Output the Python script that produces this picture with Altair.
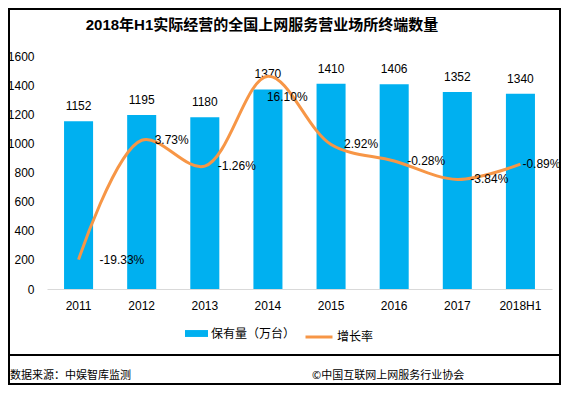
import altair as alt
import pandas as pd

years = ["2011", "2012", "2013", "2014", "2015", "2016", "2017", "2018H1"]
counts = [1152, 1195, 1180, 1370, 1410, 1406, 1352, 1340]
growth = [-19.33, 3.73, -1.26, 16.10, 2.92, -0.28, -3.84, -0.89]
growth_labels = ["-19.33%", "3.73%", "-1.26%", "16.10%", "2.92%", "-0.28%", "-3.84%", "-0.89%"]
y_ticks = [0, 200, 400, 600, 800, 1000, 1200, 1400, 1600]
series_names = ["保有量（万台）", "增长率"]
title_text = "2018年H1实际经营的全国上网服务营业场所终端数量"
source_text = "数据来源：中娱智库监测"
copyright_text = "©中国互联网上网服务行业协会"

FONT = "Liberation Sans, Noto Sans CJK SC"
CJK = "Noto Sans CJK SC"
BLUE = "#00B0F0"
ORANGE = "#F79646"

df = pd.DataFrame({"year": years, "count": counts, "growth": growth, "glabel": growth_labels})
df["s1"] = series_names[0]
df["s2"] = series_names[1]

x = alt.X(
    "year:N",
    sort=years,
    scale=alt.Scale(paddingInner=0.54, paddingOuter=0.27),
    axis=alt.Axis(
        title=None, labelAngle=0, ticks=False, domainColor="#D9D9D9", domainWidth=1,
        labelPadding=11, labelFontSize=12, labelFont=FONT, labelColor="black",
    ),
)
y_left = alt.Y(
    "count:Q",
    scale=alt.Scale(domain=[0, 1600], nice=False),
    axis=alt.Axis(
        values=y_ticks, format="d", title=None, grid=False, domain=False, ticks=False,
        labelPadding=13, labelFontSize=12, labelFont=FONT, labelColor="black",
    ),
)
y_right = alt.Y("growth:Q", scale=alt.Scale(domain=[-25, 20], nice=False), axis=None)

base = alt.Chart(df)

bars = base.mark_bar(color=BLUE).encode(
    x=x,
    y=y_left,
    color=alt.Color(
        "s1:N",
        scale=alt.Scale(domain=[series_names[0]], range=[BLUE]),
        legend=alt.Legend(
            title=None, orient="none", legendX=138, legendY=266,
            symbolType="M-1,-0.3H1V0.3H-1Z", symbolSize=529, symbolStrokeWidth=0,
            labelFont=CJK, labelFontSize=12, labelColor="black", labelOffset=3,
        ),
    ),
)
bar_labels = base.mark_text(baseline="middle", dy=-15, fontSize=12, font=FONT, color="black").encode(
    x=x, y=y_left, text=alt.Text("count:Q")
)
left = alt.layer(bars, bar_labels)

line = base.mark_line(strokeWidth=3, interpolate="catmull-rom").encode(
    x=x,
    y=y_right,
    stroke=alt.Stroke(
        "s2:N",
        scale=alt.Scale(domain=[series_names[1]], range=[ORANGE]),
        legend=alt.Legend(
            title=None, orient="none", legendX=257, legendY=266,
            symbolType="stroke", symbolSize=729, symbolStrokeWidth=3,
            labelFont=CJK, labelFontSize=12, labelColor="black", labelOffset=3,
        ),
    ),
)


def glabel_layer(sel, dx, dy=0):
    return base.transform_filter(alt.FieldOneOfPredicate(field="year", oneOf=sel)).mark_text(
        align="left", baseline="middle", dx=dx, dy=dy, fontSize=12, font=FONT, color="black"
    ).encode(x=x, y=y_right, text="glabel:N")


g_main = glabel_layer(["2012", "2013", "2015", "2016", "2017"], 13)
g_2011 = glabel_layer(["2011"], 21)
g_2014 = glabel_layer(["2014"], -1, 21)
g_2018 = glabel_layer(["2018H1"], 2)
right = alt.layer(line, g_main, g_2011, g_2014, g_2018)

deco_df = pd.DataFrame({"t": [0]})
border = alt.Chart(deco_df).mark_rect(fillOpacity=0, stroke="black", strokeWidth=2).encode(
    x=alt.value(-38), x2=alt.value(513), y=alt.value(-47), y2=alt.value(328)
)
divider = alt.Chart(deco_df).mark_rule(color="black", strokeWidth=2).encode(
    x=alt.value(-38), x2=alt.value(513), y=alt.value(299)
)
title = alt.Chart(pd.DataFrame({"t": [title_text]})).mark_text(
    align="center", baseline="middle", fontSize=15, fontWeight="bold", font=FONT, color="black"
).encode(x=alt.value(215), y=alt.value(-31), text="t:N")
src = alt.Chart(pd.DataFrame({"t": [source_text]})).mark_text(
    align="left", baseline="middle", fontSize=11, font=CJK, color="black"
).encode(x=alt.value(-37), y=alt.value(320), text="t:N")
cpy = alt.Chart(pd.DataFrame({"t": [copyright_text]})).mark_text(
    align="left", baseline="middle", fontSize=11, font=CJK, color="black"
).encode(x=alt.value(265), y=alt.value(320), text="t:N")

chart = alt.layer(left, right, border, divider, title, src, cpy).resolve_scale(
    y="independent", color="independent", stroke="independent"
).properties(
    width=505,
    height=233,
    autosize=alt.AutoSizeParams(type="none"),
    padding={"left": 39, "top": 48, "right": 9, "bottom": 96},
).configure_view(stroke=None)

chart.save("out.html", embed_options={"renderer": "svg", "actions": False})
